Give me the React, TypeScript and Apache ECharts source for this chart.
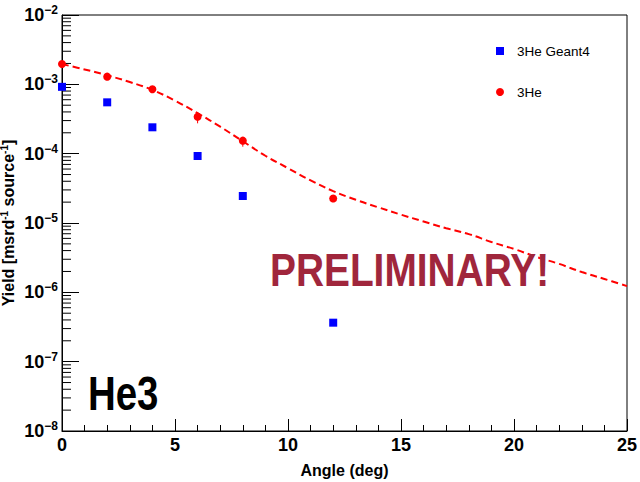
import React, { useEffect, useRef } from "react";
import * as echarts from "echarts";

const angles = [0, 2, 4, 6, 8, 12];
const he3Yield = [1.96e-3, 1.29e-3, 8.5e-4, 3.41e-4, 1.54e-4, 2.26e-5];
const he3ErrLow = [1.96e-3, 1.29e-3, 8.5e-4, 2.74e-4, 1.26e-4, 2.26e-5];
const he3ErrHigh = [1.96e-3, 1.29e-3, 8.5e-4, 3.98e-4, 1.72e-4, 2.26e-5];
const geantYield = [9.2e-4, 5.5e-4, 2.4e-4, 9.25e-5, 2.45e-5, 3.65e-7];

const fitX = [0, 1, 2, 3, 4, 5, 6, 7, 8, 9, 10, 11, 12, 13, 14, 15, 16, 17, 18, 19, 20, 21, 22, 23, 24, 25];
const fitY = [
  1.96e-3, 1.64e-3, 1.35e-3, 1.08e-3, 8.3e-4, 5.82e-4, 3.84e-4, 2.45e-4, 1.51e-4, 9.33e-5,
  6.17e-5, 4.12e-5, 2.88e-5, 2.16e-5, 1.68e-5, 1.32e-5, 1.05e-5, 8.41e-6, 6.92e-6, 5.32e-6,
  4.22e-6, 3.24e-6, 2.57e-6, 1.96e-6, 1.56e-6, 1.23e-6,
];

const decades = [-8, -7, -6, -5, -4, -3];
const minorMultipliers = [2, 3, 4, 5, 6, 7, 8, 9];

const FONT = "Liberation Sans, Arial, Helvetica, sans-serif";

export default function App() {
  const ref = useRef<HTMLDivElement>(null);
  useEffect(() => {
    if (!ref.current) return;
    const chart = echarts.init(ref.current, undefined, { renderer: "svg" });

    const minorTicks: number[][] = [];
    decades.forEach((e) => minorMultipliers.forEach((m) => minorTicks.push([0, m * Math.pow(10, e)])));

    const errData = angles.map((a, i) => [a, he3ErrLow[i], he3ErrHigh[i]]);

    chart.setOption({
      animation: false,
      backgroundColor: "#fff",
      grid: {
        left: 62,
        right: 13,
        top: 15,
        bottom: 51,
        show: true,
        borderColor: "#000",
        borderWidth: 1,
        backgroundColor: "transparent",
        outerBoundsMode: "none",
      },
      legend: {
        data: [
          { name: "3He Geant4", icon: "rect" },
          { name: "3He", icon: "circle" },
        ],
        orient: "vertical",
        left: 491,
        top: 38,
        padding: 5,
        itemWidth: 8,
        itemHeight: 8,
        itemGap: 25,
        textStyle: { fontFamily: FONT, fontSize: 13.5, color: "#000", lineHeight: 16, padding: [0, 0, 0, 8] },
      },
      xAxis: {
        type: "value",
        min: 0,
        max: 25,
        interval: 5,
        name: "Angle (deg)",
        nameLocation: "middle",
        nameGap: 31,
        nameTextStyle: { fontFamily: FONT, fontSize: 16, fontWeight: "bold", color: "#000" },
        axisLine: { lineStyle: { color: "#000", width: 1 } },
        axisTick: { inside: true, length: 12, lineStyle: { color: "#000" } },
        minorTick: { show: true, splitNumber: 5, length: 6, lineStyle: { color: "#000" } },
        splitLine: { show: false },
        axisLabel: { fontFamily: FONT, fontSize: 18, fontWeight: "bold", color: "#000", margin: 5 },
      },
      yAxis: {
        type: "log",
        logBase: 10,
        min: 1e-8,
        max: 1e-2,
        splitNumber: 6,
        name: "Yield [msrd{s|-1} source{s|-1}]",
        nameLocation: "middle",
        nameGap: 45,
        nameMoveOverlap: false,
        nameRotate: 90,
        nameTextStyle: {
          fontFamily: FONT,
          fontSize: 16,
          fontWeight: "bold",
          color: "#000",
          rich: {
            s: { fontFamily: FONT, fontSize: 10, fontWeight: "bold", color: "#000", padding: [0, 0, 8, 0] },
          },
        },
        axisLine: { lineStyle: { color: "#000", width: 1 } },
        axisTick: { inside: true, length: 17, lineStyle: { color: "#000" } },
        splitLine: { show: false },
        axisLabel: {
          margin: 4,
          formatter: (v: number) => {
            const e = Math.round(Math.log10(v));
            return "{b|10}{s|\u2212" + Math.abs(e) + "}";
          },
          rich: {
            b: { fontFamily: FONT, fontSize: 18, fontWeight: "bold", color: "#000" },
            s: { fontFamily: FONT, fontSize: 12, fontWeight: "bold", color: "#000", padding: [0, 0, 10, 0] },
          },
        },
      },
      series: [
        {
          name: "fit",
          type: "line",
          data: fitX.map((x, i) => [x, fitY[i]]),
          smooth: 0.4,
          showSymbol: false,
          symbol: "none",
          lineStyle: { color: "#ff0000", width: 2, type: [7, 4] },
          z: 2,
        },
        {
          name: "minorTicks",
          type: "custom",
          data: minorTicks,
          clip: false,
          silent: true,
          renderItem: (params: any, api: any) => {
            const p = api.coord([api.value(0), api.value(1)]);
            return {
              type: "line",
              shape: { x1: p[0], y1: p[1], x2: p[0] + 9, y2: p[1] },
              style: { stroke: "#000", lineWidth: 1 },
            };
          },
          z: 3,
        },
        {
          name: "errors",
          type: "custom",
          data: errData,
          silent: true,
          renderItem: (params: any, api: any) => {
            const lo = api.coord([api.value(0), api.value(1)]);
            const hi = api.coord([api.value(0), api.value(2)]);
            return {
              type: "line",
              shape: { x1: lo[0], y1: lo[1], x2: hi[0], y2: hi[1] },
              style: { stroke: "#ff0000", lineWidth: 1 },
            };
          },
          z: 4,
        },
        {
          name: "3He Geant4",
          type: "scatter",
          symbol: "rect",
          symbolSize: 8,
          itemStyle: { color: "#0000ff", opacity: 1 },
          data: angles.map((a, i) => [a, geantYield[i]]),
          z: 5,
        },
        {
          name: "3He",
          type: "scatter",
          symbol: "circle",
          symbolSize: 8,
          itemStyle: { color: "#ff0000", opacity: 1 },
          data: angles.map((a, i) => [a, he3Yield[i]]),
          z: 5,
        },
      ],
      graphic: [
        {
          type: "text",
          x: 88,
          y: 393,
          scaleX: 0.8,
          style: {
            text: "He3",
            font: "bold 48px " + FONT,
            fill: "#000",
            align: "left",
            verticalAlign: "middle",
          },
          z: 10,
        },
        {
          type: "text",
          x: 270,
          y: 270,
          scaleX: 0.827,
          style: {
            text: "PRELIMINARY!",
            font: "bold 47px " + FONT,
            fill: "#a0263c",
            align: "left",
            verticalAlign: "middle",
          },
          z: 10,
        },
      ],
    });
    return () => chart.dispose();
  }, []);
  return <div ref={ref} style={{ position: "fixed", left: 0, top: 0, width: 640, height: 482 }} />;
}
